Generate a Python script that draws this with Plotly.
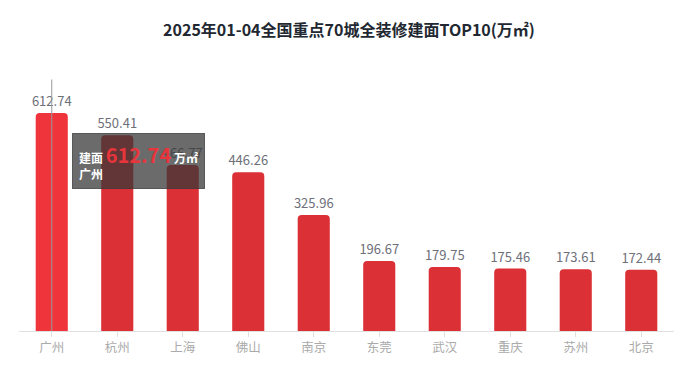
import plotly.graph_objects as go

cities = ["广州", "杭州", "上海", "佛山", "南京", "东莞", "武汉", "重庆", "苏州", "北京"]
areas = [612.74, 550.41, 466.77, 446.26, 325.96, 196.67, 179.75, 175.46, 173.61, 172.44]
bar_colors = ["#F0343C"] + ["#DC3037"] * 9

font_family = "Noto Sans CJK SC, Noto Sans, sans-serif"

fig = go.Figure()
fig.add_trace(go.Bar(
    x=cities,
    y=areas,
    marker=dict(color=bar_colors, cornerradius=4, line=dict(width=0)),
    width=0.49,
    text=[f"{v:.2f}" for v in areas],
    textposition="outside",
    constraintext="none",
    textfont=dict(color="#6E7079", size=13, family=font_family),
    cliponaxis=False,
    hoverinfo="skip",
))

# page has an 8px body margin; figure sized to fit the window
fig.update_layout(
    width=682, height=362,
    margin=dict(l=11, r=16, t=74, b=39),
    paper_bgcolor="white", plot_bgcolor="white",
    font=dict(family=font_family),
    showlegend=False,
    title=dict(
        text="<b>2025年01-04全国重点70城全装修建面TOP10(万㎡)</b>",
        x=0.5, xanchor="center", y=0.939, yanchor="middle",
        font=dict(size=16, color="#222831", family=font_family),
    ),
    xaxis=dict(
        type="category",
        showline=True, linecolor="#E0E0E0", linewidth=1,
        ticks="outside", ticklen=5, tickcolor="#E0E0E0",
        tickfont=dict(color="#AAAAAA", size=12.5, family=font_family),
        showgrid=False, zeroline=False,
    ),
    yaxis=dict(
        range=[0, 700], visible=False, showgrid=False, zeroline=False,
    ),
    bargap=0.5,
)

# axis pointer line at the highlighted category
fig.add_shape(
    type="line", xref="x", yref="paper",
    x0=0, x1=0, y0=0, y1=1.01,
    line=dict(color="#999999", width=1), layer="above",
)

# tooltip box
fig.add_annotation(
    xref="x", yref="paper", x=0.305, y=0.795,
    xanchor="left", yanchor="top", showarrow=False, align="left",
    text=("<b>建面</b> <span style='color:#E8353C;font-size:20px'><b>612.74</b></span> <b>万㎡</b>"
          "<br><b>广州</b>"),
    font=dict(color="white", size=12, family=font_family),
    bgcolor="rgba(55,55,55,0.74)", bordercolor="rgba(55,55,55,0.74)",
    borderwidth=1, borderpad=6,
)

fig.write_html("out.html")
